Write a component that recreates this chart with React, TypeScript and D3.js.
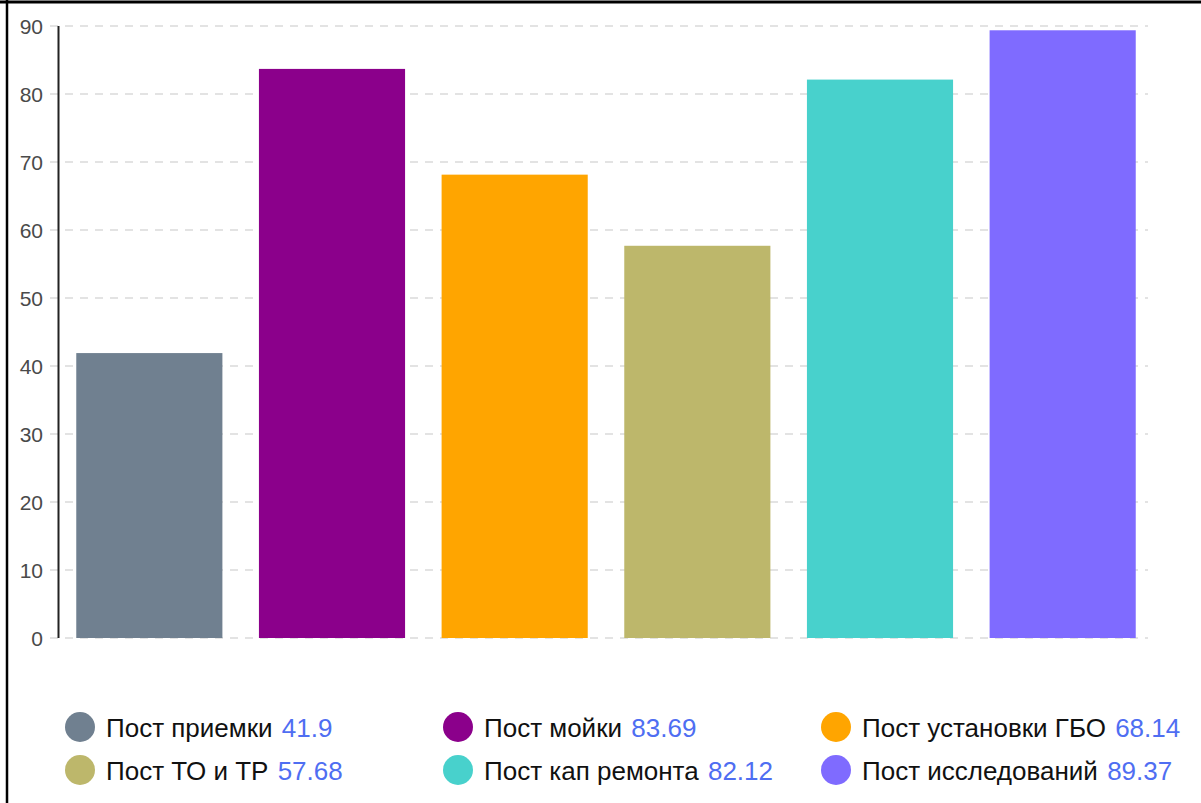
import React from "react";
import * as d3 from "d3";

const categories = ["Пост приемки", "Пост мойки", "Пост установки ГБО", "Пост ТО и ТР", "Пост кап ремонта", "Пост исследований"];
const values = [41.9, 83.69, 68.14, 57.68, 82.12, 89.37];
const valueLabels = ["41.9", "83.69", "68.14", "57.68", "82.12", "89.37"];
const colors = ["#708090", "#8b008b", "#ffa500", "#bdb76b", "#48d1cc", "#7f6bff"];
const yTicks = [0, 10, 20, 30, 40, 50, 60, 70, 80, 90];

const W = 1201;
const H = 803;
const plotLeft = 58;
const plotRight = 1154;
const plotTop = 26;
const plotBottom = 638;

export default function App() {
  const x = d3.scaleBand<string>().domain(categories).range([plotLeft, plotRight]).paddingInner(0.2).paddingOuter(0.1);
  const y = d3.scaleLinear().domain([0, 90]).range([plotBottom, plotTop]);
  const font = "Arial, 'Liberation Sans', sans-serif";
  const colX = [80, 458, 836];
  const rowY = [727, 770];

  return (
    <svg width={W} height={H} style={{ position: "absolute", left: 0, top: 0, background: "#fff" }}>
      <rect x={0} y={0} width={W} height={H} fill="#fff" />
      <line x1={0} x2={W} y1={2} y2={2} stroke="#000" strokeWidth={3} />
      <line x1={7} x2={7} y1={0} y2={H} stroke="#000" strokeWidth={2.5} />
      {yTicks.map((t) => (
        <g key={t}>
          <line x1={50} x2={1148} y1={y(t)} y2={y(t)} stroke="#c8c8c8" strokeWidth={1.2} strokeDasharray="8 7" />
          <text x={43} y={y(t)} dy="0.36em" textAnchor="end" fontFamily={font} fontSize={21} fill="#4a4a4a">{t}</text>
        </g>
      ))}
      {categories.map((c, i) => (
        <rect key={c} x={x(c)} y={y(values[i])} width={x.bandwidth()} height={y(0) - y(values[i])} fill={colors[i]} />
      ))}
      <line x1={58.5} x2={58.5} y1={plotTop} y2={plotBottom} stroke="#222" strokeWidth={2} />
      {categories.map((c, i) => {
        const col = i % 3;
        const row = Math.floor(i / 3);
        const cx = colX[col];
        const cy = rowY[row];
        return (
          <g key={"l" + c}>
            <circle cx={cx} cy={cy} r={15} fill={colors[i]} />
            <text x={cx + 26} y={cy + 9.5} fontFamily={font} fontSize={26} fill="#111">
              {c} <tspan fill="#4f6ef2" dx={2}>{valueLabels[i]}</tspan>
            </text>
          </g>
        );
      })}
    </svg>
  );
}
